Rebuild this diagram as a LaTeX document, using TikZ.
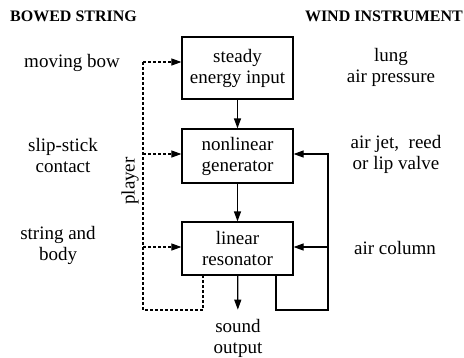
\documentclass[tikz,border=0pt]{standalone}
\usepackage{fontspec}
\setmainfont{LiberationSerif}[Extension=.ttf, UprightFont=*-Regular, BoldFont=*-Bold, ItalicFont=*-Italic, BoldItalicFont=*-BoldItalic]
\usetikzlibrary{arrows.meta}
\begin{document}
\begin{tikzpicture}[x=1pt,y=-1pt,
  every node/.style={font=\rmfamily\fontsize{19}{21}\selectfont, inner sep=0pt},
  blk/.style={draw, line width=1.2pt, minimum width=111pt, align=center},
  lbl/.style={align=center},
  ttl/.style={font=\rmfamily\fontsize{16}{18}\selectfont\bfseries},
  arr/.style={line width=1.2pt, -{Triangle[length=10pt,width=7pt]}},
  dsh/.style={line width=1.1pt, dash pattern=on 3pt off 2pt},
]
\useasboundingbox (0,0) rectangle (464,357);
% titles
\node[ttl, anchor=base west] (t1) at (10,21) {BOWED STRING};
\node[ttl, anchor=base east] (t2) at (463,21) {WIND INSTRUMENT};
% blocks
\node[blk, minimum height=62pt] (b1) at (237.5,68) {steady\\energy input};
\node[blk, minimum height=54pt] (b2) at (237.5,156) {nonlinear\\generator};
\node[blk, minimum height=53pt] (b3) at (237.5,248.5) {linear\\resonator};
\node[lbl] (so) at (238,338) {sound\\output};
% left labels
\node[lbl] (l1) at (72,63) {moving bow};
\node[lbl] (l2) at (63,155) {slip-stick\\contact};
\node[lbl] (l3) at (58,245) {string and\\body};
\node[rotate=90] (pl) at (130,181) {player};
% right labels
\node[lbl] (r1) at (391,67) {lung\\air pressure};
\node[lbl] (r2) at (396,154) {air jet,~ reed\\or lip valve};
\node[lbl] (r3) at (395,248) {air column};
% main arrows
\draw[arr] (b1) -- (b2);
\draw[arr] (b2) -- (b3);
\draw[arr, shorten >=9pt] (b3) -- (so);
% dashed player lines
\coordinate (d1) at (143,62);
\coordinate (d2) at (143,154);
\coordinate (d3) at (143,247);
\coordinate (d4) at (143,310);
\coordinate (d5) at (203,310);
\draw[dsh] (d1) -- (d4) -- (d5) -- (d5 |- b3.south);
\draw[dsh, -{Triangle[length=10pt,width=7pt]}] (d1) -- (d1 -| b1.west);
\draw[dsh, -{Triangle[length=10pt,width=7pt]}] (d2) -- (d2 -| b2.west);
\draw[dsh, -{Triangle[length=10pt,width=7pt]}] (d3) -- (d3 -| b3.west);
% feedback
\coordinate (f0) at (276,275);
\coordinate (f1) at (276,310);
\coordinate (f2) at (328,310);
\coordinate (f3) at (328,154);
\coordinate (f4) at (328,247);
\draw[arr] (f0 |- b3.south) -- (f1) -- (f2) -- (f3) -- (f3 -| b2.east);
\draw[arr] (f4) -- (f4 -| b3.east);
\end{tikzpicture}
\end{document}
